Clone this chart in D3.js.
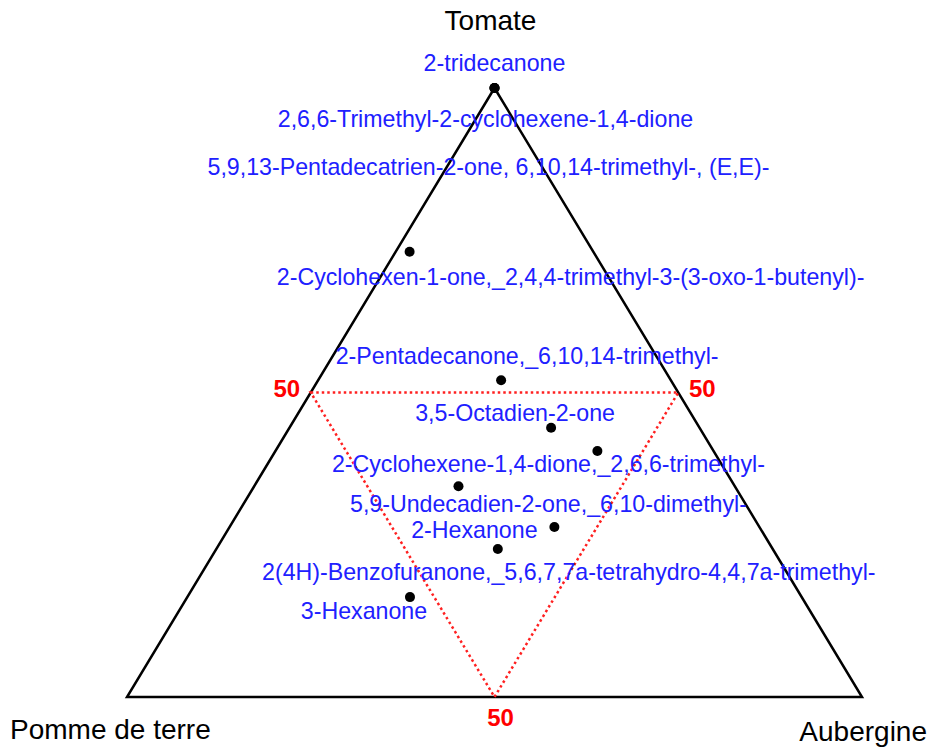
<!DOCTYPE html>
<html>
<head>
<meta charset="utf-8">
<script src="https://cdn.jsdelivr.net/npm/d3@7"></script>
<style>
  html, body { margin: 0; padding: 0; background: #fff; }
  svg { display: block; font-family: "Liberation Sans", Arial, sans-serif; }
</style>
</head>
<body>
<div id="chart"></div>
<script>
// Vertex names (top, left, right)
const vertexNames = ['Tomate', 'Pomme de terre', 'Aubergine'];

// Compounds and their share (%) in each vegetable
const compounds = [
    '2-tridecanone',
    '2,6,6-Trimethyl-2-cyclohexene-1,4-dione',
    '5,9,13-Pentadecatrien-2-one, 6,10,14-trimethyl-, (E,E)-',
    '2-Cyclohexen-1-one,_2,4,4-trimethyl-3-(3-oxo-1-butenyl)-',
    '2-Pentadecanone,_6,10,14-trimethyl-',
    '3,5-Octadien-2-one',
    '2-Cyclohexene-1,4-dione,_2,6,6-trimethyl-',
    '5,9-Undecadien-2-one,_6,10-dimethyl-',
    '2-Hexanone',
    '2(4H)-Benzofuranone,_5,6,7,7a-tetrahydro-4,4,7a-trimethyl-',
    '3-Hexanone'
];
const tomate    = [100, 100, 100, 73.1, 52.0, 44.2, 40.4, 34.6, 27.9, 24.3, 16.4];
const pomme     = [0,   0,   0,   25.0, 23.1, 20.2, 15.8, 37.6, 27.9, 37.4, 53.3];
const aubergine = [0,   0,   0,   1.9,  24.9, 35.6, 43.8, 27.8, 44.2, 38.3, 30.3];

// Label placement (repelled text offsets, px)
const labelDx = [0, -9, -6, 161, 26, -36, -49, 90, -80, 71, -46];
const labelDy = [-27, 29, 77, 23, -26, -17, 11, 16, 1, 21, 12];

// Central reference triangle at 50 %
const refLevel = 50;

const width = 929, height = 751;
const margin = { top: 88, right: 67, bottom: 54, left: 127 };

const svg = d3.select('#chart').append('svg')
    .attr('width', width)
    .attr('height', height);

const g = svg.append('g');

const xScale = d3.scaleLinear().domain([0, 1]).range([margin.left, width - margin.right]);
const yScale = d3.scaleLinear().domain([0, 1]).range([height - margin.bottom, margin.top]);

// ternary (top, left, right) -> screen
function project(t, l, r) {
    const s = t + l + r;
    t /= s; r /= s;
    return [xScale(r + t / 2), yScale(t)];
}

const apex = project(1, 0, 0);
const left = project(0, 1, 0);
const right = project(0, 0, 1);

// outer triangle
g.append('path')
    .attr('d', d3.line()([apex, left, right, apex]) + 'Z')
    .attr('fill', 'none')
    .attr('stroke', '#000')
    .attr('stroke-width', 2.5)
    .attr('stroke-linejoin', 'miter');

// 50% dotted triangle
const h = refLevel / 100;
const mLeft = project(h, h, 0);
const mRight = project(h, 0, h);
const mBottom = project(0, h, h);

g.append('path')
    .attr('d', d3.line()([mLeft, mRight, mBottom]) + 'Z')
    .attr('fill', 'none')
    .attr('stroke', '#ff2020')
    .attr('stroke-width', 2.5)
    .attr('stroke-dasharray', '2.5,3');

const refLabels = [
    { p: mLeft, dx: -24, dy: -4 },
    { p: mRight, dx: 24, dy: -4 },
    { p: mBottom, dx: 6, dy: 21 }
];
g.selectAll('.ref-label')
    .data(refLabels)
    .join('text')
    .attr('class', 'ref-label')
    .attr('x', d => d.p[0] + d.dx)
    .attr('y', d => d.p[1] + d.dy)
    .attr('dy', '0.35em')
    .attr('text-anchor', 'middle')
    .attr('fill', '#ff0000')
    .style('font-size', '24px')
    .style('font-weight', 'bold')
    .text(refLevel);

// vertex labels
svg.append('text')
    .attr('x', apex[0] - 4).attr('y', 30)
    .attr('text-anchor', 'middle')
    .style('font-size', '28px')
    .text(vertexNames[0]);
svg.append('text')
    .attr('x', 10).attr('y', 739)
    .attr('text-anchor', 'start')
    .style('font-size', '28px')
    .text(vertexNames[1]);
svg.append('text')
    .attr('x', 927).attr('y', 741)
    .attr('text-anchor', 'end')
    .style('font-size', '28px')
    .text(vertexNames[2]);

const data = compounds.map((name, i) => {
    const [x, y] = project(tomate[i], pomme[i], aubergine[i]);
    return { name, x, y, dx: labelDx[i], dy: labelDy[i] };
});

// points
g.selectAll('.pt')
    .data(data)
    .join('circle')
    .attr('class', 'pt')
    .attr('cx', d => d.x)
    .attr('cy', d => d.y)
    .attr('r', 5)
    .attr('fill', '#000');

// compound labels
g.selectAll('.lbl')
    .data(data)
    .join('text')
    .attr('class', 'lbl')
    .attr('x', d => d.x + d.dx)
    .attr('y', d => d.y + d.dy)
    .attr('dy', '0.42em')
    .attr('text-anchor', 'middle')
    .attr('fill', '#2020ff')
    .style('font-size', '23.2px')
    .text(d => d.name);
</script>
</body>
</html>
